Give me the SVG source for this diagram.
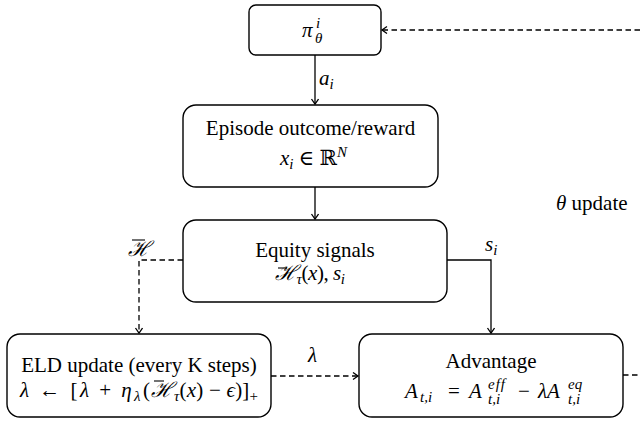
<svg xmlns="http://www.w3.org/2000/svg" width="640" height="421" viewBox="0 0 640 421">
<style>
.box{fill:#fff;stroke:#000;stroke-width:1.4}
.t{font-family:"Liberation Serif","DejaVu Serif",serif;font-size:21px;fill:#000}
.m{font-family:"Liberation Serif","DejaVu Serif",serif;font-size:21px;font-style:italic;fill:#000}
.s{font-size:15px}
.u{font-style:normal}
.ln{fill:none;stroke:#000;stroke-width:1.3}
.d{stroke-dasharray:5.5 3.5}
.bar{stroke:#000;stroke-width:1.1}
</style>
<defs>
<marker id="ah" markerWidth="10" markerHeight="10" refX="6" refY="4" orient="auto" markerUnits="userSpaceOnUse">
<path d="M1,0.5 L6,4 L1,7.5" fill="none" stroke="#000" stroke-width="1.3"/>
</marker>
</defs>
<g id="connectors">
<line class="ln" x1="315" y1="55" x2="315" y2="104" marker-end="url(#ah)"/>
<line class="ln" x1="315" y1="187" x2="315" y2="219" marker-end="url(#ah)"/>
<path class="ln d" d="M183,260 H139 V333" marker-end="url(#ah)"/>
<path class="ln" d="M447,260 H491 V333" marker-end="url(#ah)"/>
<path class="ln d" d="M271,376 H358" marker-end="url(#ah)"/>
<path class="ln d" d="M623,375 H640"/>
<path class="ln d" d="M640,30 H382" marker-end="url(#ah)"/>
<text class="m" x="319" y="85">a<tspan class="s" dy="4">i</tspan></text>
<text class="m" x="128" y="256">ℋ</text>
<line class="bar" x1="132" y1="240" x2="145" y2="240"/>
<text class="m" x="485" y="251">s<tspan class="s" dy="4">i</tspan></text>
<text class="m" x="308" y="362">λ</text>
<text class="t" x="556" y="210"><tspan font-style="italic">θ</tspan> update</text>
</g>
<g id="policy">
<rect class="box" x="249" y="5" width="132" height="50" rx="7"/>
<text class="m" x="302" y="37">π</text>
<text class="m s" x="316" y="28">i</text>
<text class="m s" x="315" y="43">θ</text>
</g>
<g id="episode">
<rect class="box" x="183" y="105" width="255" height="82" rx="13"/>
<text class="t" x="310.5" y="135" text-anchor="middle">Episode outcome/reward</text>
<text class="m" x="280" y="165">x<tspan class="s" dy="4">i</tspan><tspan class="u" dy="-4"> ∈ ℝ</tspan><tspan class="s" dy="-8">N</tspan></text>
</g>
<g id="equity">
<rect class="box" x="183" y="220" width="264" height="82" rx="13"/>
<text class="t" x="315" y="257" text-anchor="middle">Equity signals</text>
<text class="m" x="275" y="280" textLength="70" lengthAdjust="spacing">ℋ<tspan class="s" dy="4">τ</tspan><tspan class="u" dy="-4">(</tspan>x<tspan class="u">), </tspan>s<tspan class="s" dy="4">i</tspan></text>
<line class="bar" x1="278" y1="268" x2="287" y2="268"/>
</g>
<g id="eld">
<rect class="box" x="7" y="334" width="264" height="83" rx="13"/>
<text class="t" x="139" y="372" text-anchor="middle">ELD update (every K steps)</text>
<text class="m" x="20" y="397" textLength="130" lengthAdjust="spacing">λ<tspan class="u"> ← [</tspan>λ<tspan class="u"> + </tspan>η<tspan class="s" dy="4">λ</tspan><tspan class="u" dy="-4">(</tspan></text>
<text class="m" x="151" y="397">ℋ</text>
<line class="bar" x1="154" y1="381" x2="164" y2="381"/>
<text class="m" x="174" y="397" textLength="84" lengthAdjust="spacing"><tspan class="s" dy="4">τ</tspan><tspan class="u" dy="-4">(</tspan>x<tspan class="u">) − </tspan>ϵ<tspan class="u">)]</tspan><tspan class="s u" dy="4">+</tspan></text>
</g>
<g id="advantage">
<rect class="box" x="359" y="334" width="264" height="83" rx="13"/>
<text class="t" x="491" y="368" text-anchor="middle">Advantage</text>
<text class="m" x="405" y="398">A</text>
<text class="m s" x="420" y="402">t,i</text>
<text class="t" x="448" y="398">=</text>
<text class="m" x="469" y="398">A</text>
<text class="m s" x="488" y="389" letter-spacing="1">eff</text>
<text class="m s" x="488" y="404">t,i</text>
<text class="t" x="518" y="398">−</text>
<text class="m" x="538" y="398">λA</text>
<text class="m s" x="568" y="389">eq</text>
<text class="m s" x="568" y="404">t,i</text>
</g>
</svg>
